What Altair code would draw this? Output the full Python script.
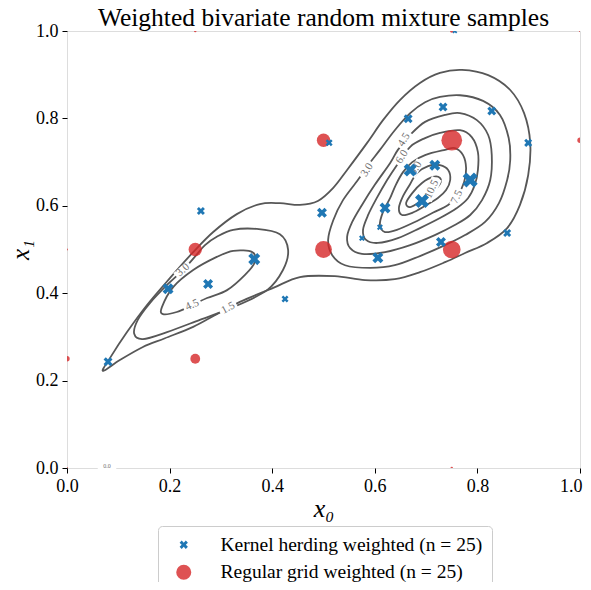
import altair as alt
import pandas as pd

SERIF = "Liberation Serif"
LINE_COLOR = "#575757"
BLUE = "#1f77b4"
RED = "rgba(214,39,40,0.8)"

# ---------------- contour rings (x0, x1) ----------------
ring_names = ["1.5", "3.0 left", "4.5 left", "3.0 right", "4.5 right", "6.0", "7.5", "9.0", "10.5"]

ring_x = {
    "1.5": [0.070, 0.084, 0.117, 0.156, 0.201, 0.246, 0.285, 0.331, 0.376, 0.415, 0.454, 0.489, 0.519,
            0.546, 0.585, 0.616, 0.649, 0.688, 0.727, 0.770, 0.821, 0.864, 0.891, 0.903, 0.899, 0.883,
            0.858, 0.819, 0.776, 0.737, 0.688, 0.639, 0.581, 0.522, 0.454, 0.402, 0.337, 0.292, 0.246,
            0.191, 0.148, 0.103],
    "3.0 left": [0.292, 0.269, 0.249, 0.226, 0.195, 0.162, 0.138, 0.131, 0.148, 0.195, 0.259, 0.324,
                 0.390, 0.421, 0.431, 0.415, 0.370, 0.324],
    "4.5 left": [0.361, 0.324, 0.292, 0.246, 0.207, 0.185, 0.187, 0.214, 0.244, 0.273, 0.312, 0.347, 0.366],
    "3.0 right": [0.727, 0.766, 0.811, 0.844, 0.861, 0.864, 0.858, 0.842, 0.815, 0.776, 0.737, 0.688,
                  0.639, 0.591, 0.542, 0.517, 0.509, 0.519, 0.538, 0.567, 0.587, 0.610, 0.639, 0.669, 0.698],
    "4.5 right": [0.737, 0.766, 0.799, 0.821, 0.828, 0.825, 0.809, 0.786, 0.756, 0.717, 0.669, 0.620,
                  0.575, 0.552, 0.546, 0.556, 0.575, 0.600, 0.630, 0.645, 0.669, 0.698],
    "6.0": [0.727, 0.766, 0.789, 0.801, 0.801, 0.795, 0.782, 0.760, 0.727, 0.688, 0.645, 0.606, 0.583,
            0.577, 0.587, 0.604, 0.624, 0.643, 0.669, 0.698],
    "7.5": [0.737, 0.756, 0.772, 0.778, 0.774, 0.762, 0.743, 0.713, 0.678, 0.643, 0.620, 0.610, 0.616,
            0.630, 0.641, 0.655, 0.673, 0.698],
    "9.0": [0.727, 0.743, 0.747, 0.739, 0.723, 0.698, 0.673, 0.653, 0.647, 0.655, 0.669, 0.682, 0.704],
    "10.5": [0.713, 0.727, 0.727, 0.713, 0.688, 0.669, 0.661, 0.673, 0.692],
}
ring_y = {
    "1.5": [0.222, 0.252, 0.311, 0.373, 0.435, 0.494, 0.540, 0.581, 0.604, 0.606, 0.602, 0.611, 0.641,
            0.682, 0.744, 0.796, 0.842, 0.881, 0.904, 0.911, 0.899, 0.865, 0.812, 0.744, 0.670, 0.602,
            0.549, 0.515, 0.492, 0.471, 0.448, 0.432, 0.430, 0.439, 0.437, 0.412, 0.380, 0.352, 0.323,
            0.297, 0.277, 0.247],
    "3.0 left": [0.529, 0.510, 0.483, 0.453, 0.419, 0.378, 0.339, 0.307, 0.295, 0.311, 0.339, 0.368,
                 0.407, 0.453, 0.499, 0.535, 0.547, 0.545],
    "4.5 left": [0.494, 0.497, 0.483, 0.453, 0.414, 0.368, 0.352, 0.357, 0.373, 0.389, 0.407, 0.442, 0.471],
    "3.0 right": [0.849, 0.853, 0.840, 0.808, 0.755, 0.705, 0.659, 0.606, 0.563, 0.533, 0.510, 0.485,
                  0.464, 0.458, 0.464, 0.487, 0.522, 0.567, 0.613, 0.659, 0.693, 0.728, 0.773, 0.812, 0.837],
    "4.5 right": [0.808, 0.812, 0.796, 0.762, 0.716, 0.659, 0.613, 0.579, 0.556, 0.533, 0.510, 0.494,
                  0.490, 0.503, 0.529, 0.563, 0.602, 0.648, 0.698, 0.728, 0.762, 0.792],
    "6.0": [0.767, 0.773, 0.757, 0.723, 0.682, 0.648, 0.618, 0.595, 0.572, 0.549, 0.526, 0.515, 0.522,
            0.545, 0.579, 0.618, 0.659, 0.693, 0.735, 0.755],
    "7.5": [0.728, 0.732, 0.716, 0.686, 0.654, 0.625, 0.602, 0.584, 0.563, 0.545, 0.540, 0.556, 0.586,
            0.618, 0.648, 0.677, 0.700, 0.716],
    "9.0": [0.693, 0.682, 0.659, 0.636, 0.618, 0.600, 0.584, 0.579, 0.595, 0.622, 0.650, 0.675, 0.691],
    "10.5": [0.666, 0.664, 0.650, 0.632, 0.609, 0.597, 0.606, 0.629, 0.652],
}

# contour labels
label_text = ["1.5", "3.0", "4.5", "3.0", "4.5", "6.0", "9.0", "10.5", "7.5", "0.0"]
label_x = [0.314, 0.226, 0.244, 0.585, 0.657, 0.653, 0.680, 0.711, 0.760, 0.078]
label_y = [0.366, 0.453, 0.373, 0.682, 0.751, 0.712, 0.686, 0.638, 0.620, 0.004]
label_angle = [332, 318, 335, 303, 302, 302, 300, 295, 295, 0]

# ---------------- samples ----------------
SERIES = ["Kernel herding weighted (n = 25)", "Regular grid weighted (n = 25)"]

kh_x = [0.756, 0.733, 0.828, 0.899, 0.665, 0.511, 0.261, 0.497, 0.620, 0.669, 0.717, 0.786,
        0.692, 0.610, 0.575, 0.606, 0.729, 0.858, 0.365, 0.275, 0.197, 0.425, 0.080]
kh_y = [1.000, 0.826, 0.817, 0.744, 0.799, 0.744, 0.588, 0.584, 0.595, 0.682, 0.693, 0.659,
        0.611, 0.551, 0.526, 0.481, 0.517, 0.538, 0.478, 0.421, 0.410, 0.387, 0.243]
kh_w = [0.011, 0.036, 0.036, 0.029, 0.036, 0.022, 0.029, 0.045, 0.054, 0.076, 0.054, 0.101,
        0.088, 0.016, 0.016, 0.054, 0.045, 0.029, 0.065, 0.045, 0.054, 0.022, 0.036]

rg_x = [0.75, 0.50, 0.25, 0.50, 0.75, 0.25, 0.00, 0.00, 1.00, 0.75, 0.25, 0.75, 1.00, 0.00]
rg_y = [0.75, 0.75, 0.50, 0.50, 0.50, 0.25, 0.25, 0.50, 0.75, 1.00, 1.00, 0.00, 1.00, 0.00]
rg_w = [0.274, 0.113, 0.113, 0.180, 0.200, 0.061, 0.018, 0.002, 0.018, 0.008, 0.004, 0.004, 0.003, 0.002]

# ---------------- tables ----------------
rows = []
for name in ring_names:
    for i, (a, b) in enumerate(zip(ring_x[name], ring_y[name])):
        rows.append({"ring": name, "idx": i, "x0": a, "x1": b})
contour_df = pd.DataFrame(rows)

labels_df = pd.DataFrame({"text": label_text, "x0": label_x, "x1": label_y, "angle": label_angle})
labels_df["box"] = [(len(t) * 5.5 + 2) ** 2 for t in label_text]
labels_df["fs"] = [6 if t == "0.0" else 11 for t in label_text]

kh_df = pd.DataFrame({"x0": kh_x, "x1": kh_y, "w": kh_w, "series": SERIES[0]})
rg_df = pd.DataFrame({"x0": rg_x, "x1": rg_y, "w": rg_w, "series": SERIES[1]})

# ---------------- encodings ----------------
TICKS = [0.0, 0.2, 0.4, 0.6, 0.8, 1.0]
sc = alt.Scale(domain=[0, 1], nice=False, zero=False)

common_axis = dict(values=TICKS, format=".1f", titleFont=SERIF, titleFontStyle="italic",
                   titleFontWeight="normal", titleColor="black",
                   labelFont=SERIF, labelFontSize=18, labelColor="black", labelPadding=4,
                   tickColor="black", tickSize=5, tickWidth=1, domain=False, grid=False, labelFlush=False)
x_axis = alt.Axis(title="x₀", titleFontSize=26, titlePadding=0,
                  labelAlign={"condition": {"test": "datum.value == 1", "value": "right"}, "value": "center"},
                  labelOffset={"condition": {"test": "datum.value == 1", "value": 2}, "value": 0},
                  **common_axis)
y_axis = alt.Axis(title="x₁", titleFontSize=25, titlePadding=2, **common_axis)

X = alt.X("x0:Q", scale=sc, axis=x_axis)
Y = alt.Y("x1:Q", scale=sc, axis=y_axis)

XPATH = ("M0.275,-0.55L0,-0.275L-0.275,-0.55L-0.55,-0.275L-0.275,0L-0.55,0.275L-0.275,0.55"
         "L0,0.275L0.275,0.55L0.55,0.275L0.275,0L0.55,-0.275Z")
BOXPATH = "M-1,-0.45L1,-0.45L1,0.45L-1,0.45Z"

legend = alt.Legend(orient="none", legendX=91, legendY=495, title=None, labelFont=SERIF,
                    labelFontSize=19.5, labelColor="black", labelLimit=500, symbolSize=227,
                    symbolStrokeWidth=0, symbolOpacity=1, fillColor="white", strokeColor="#cccccc",
                    cornerRadius=4, padding=9, symbolOffset=7, labelOffset=27, rowPadding=6.5)
color = alt.Color("series:N", scale=alt.Scale(domain=SERIES, range=[BLUE, RED]), legend=legend)
shape = alt.Shape("series:N", scale=alt.Scale(domain=SERIES, range=[XPATH, "circle"]), legend=legend)

contours = alt.Chart(contour_df).mark_line(
    interpolate="cardinal-closed", color=LINE_COLOR, strokeWidth=1.8
).encode(x=X, y=Y, detail="ring:N", order="idx:Q")

boxes = alt.Chart(labels_df).mark_point(shape=BOXPATH, filled=True, color="white", opacity=1).encode(
    x=X, y=Y, size=alt.Size("box:Q", scale=None), angle=alt.Angle("angle:Q", scale=None))

texts = alt.Chart(labels_df).mark_text(font=SERIF, color="#707070", align="center", baseline="middle").encode(
    x=X, y=Y, text="text:N", angle=alt.Angle("angle:Q", scale=None), size=alt.Size("fs:Q", scale=None))

grid_pts = alt.Chart(rg_df).mark_point(filled=True, clip=True, strokeWidth=0, opacity=1).encode(
    x=X, y=Y, color=color, shape=shape,
    size=alt.Size("w:Q", scale=alt.Scale(domain=[0, 0.274], range=[0, 430]), legend=None))

kh_pts = alt.Chart(kh_df).mark_point(filled=True, clip=True, strokeWidth=0, opacity=1).encode(
    x=X, y=Y, color=color, shape=shape,
    size=alt.Size("w:Q", scale=alt.Scale(domain=[0, 0.101], range=[0, 744]), legend=None))

chart = alt.layer(contours, boxes, texts, grid_pts, kh_pts).resolve_scale(size="independent").properties(
    width=513, height=437,
    title=alt.TitleParams("Weighted bivariate random mixture samples", font=SERIF, fontSize=25.5,
                          fontWeight="normal", color="black", offset=-9, anchor="middle"),
    autosize=alt.AutoSizeParams(type="none"),
    padding={"left": 59, "top": 23, "right": 3, "bottom": 114},
).configure_view(stroke="black", strokeWidth=1).configure(background="white")

chart.save("out.html", embed_options={"renderer": "svg", "actions": False})
